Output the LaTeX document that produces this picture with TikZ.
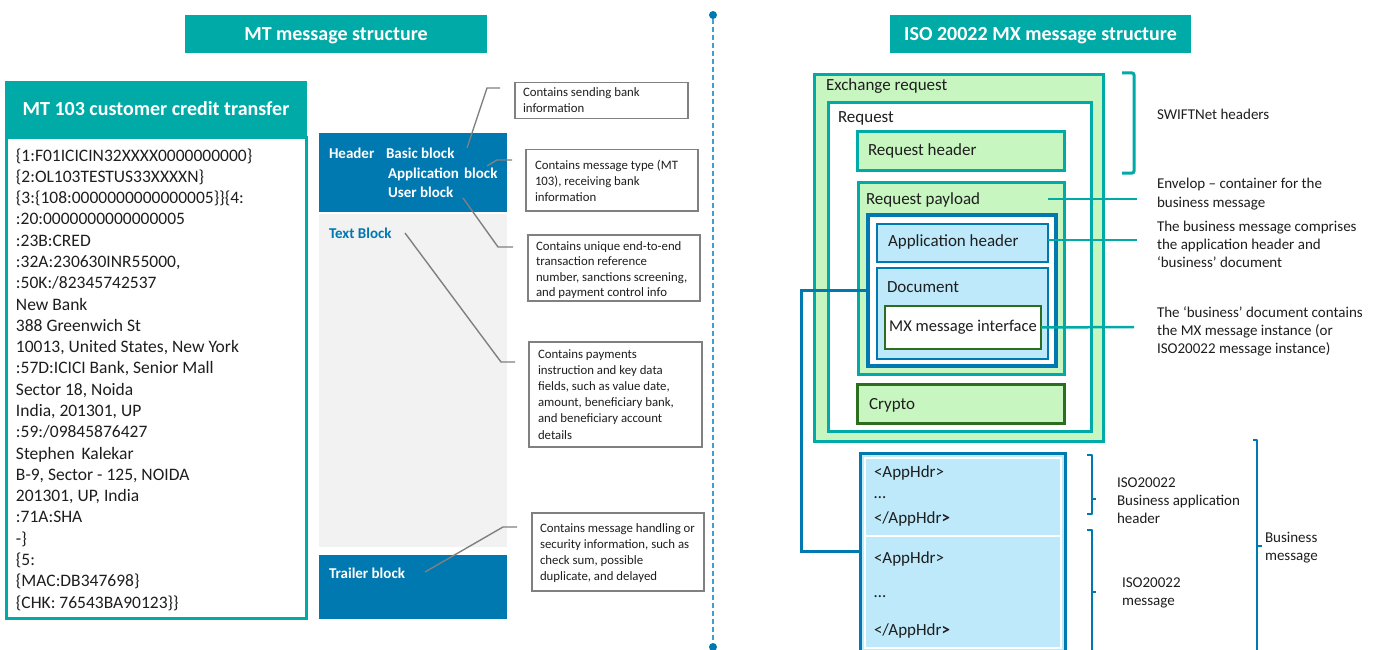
\documentclass[tikz,border=0pt]{standalone}
\usepackage{fontspec}
\setmainfont{Carlito}
\definecolor{mxteal}{RGB}{0,170,167}
\definecolor{mxblue}{RGB}{0,120,176}
\definecolor{mxpanel}{RGB}{242,242,242}
\definecolor{mxgreen}{RGB}{200,246,192}
\definecolor{mxsky}{RGB}{190,233,251}
\definecolor{mxforest}{RGB}{45,110,30}
\definecolor{mxgrey}{RGB}{128,128,128}
\definecolor{mxdash}{RGB}{60,160,215}
\definecolor{mxink}{RGB}{30,30,30}
% a block of lines: width, font size, line spacing, text
\newcommand\tlines[4]{\parbox[t]{#1}{\raggedright\fontsize{#2}{#3}\selectfont #4}}

\begin{document}
\begin{tikzpicture}[x=1pt,y=-1pt,
  every node/.style={inner sep=0pt, outer sep=0pt},
  titlebar/.style={fill=mxteal, text=white, font=\fontsize{20pt}{24pt}\selectfont\bfseries,
                   text height=13pt, text depth=0pt},
  mtblock/.style={fill=mxblue},
  textpanel/.style={fill=mxpanel},
  callout/.style={draw=mxgrey, line width=1.8pt, fill=white},
  leader/.style={mxgrey, line width=1.4pt},
  blocklabel/.style={anchor=base west, text=white, font=\fontsize{15pt}{18pt}\selectfont\bfseries},
  notetext/.style={anchor=base west, text=mxink},
  tealframe/.style={draw=mxteal, line width=3pt},
  boxlabel/.style={anchor=base west, text=mxink, font=\fontsize{17pt}{20pt}\selectfont},
  xmltext/.style={anchor=base west, text=mxink, font=\fontsize{17pt}{20pt}\selectfont},
  tealline/.style={mxteal, line width=2.5pt},
  blueline/.style={mxblue, line width=3pt},
  bracebar/.style={mxblue, line width=2.5pt, line join=round},
  enddot/.style={circle, fill=mxblue, minimum size=8pt}]

\useasboundingbox (0,0) rectangle (1381,650);
\clip (0,0) rectangle (1381,650);
\fill[white] (0,0) rectangle (1381,650);

% ---------------- MT side ----------------
\node[titlebar, minimum width=302pt, minimum height=38pt] (mthead) at (336,34) {MT message structure};

\node[draw=mxteal, line width=3pt, fill=white, minimum width=299.5pt, minimum height=480pt] (mtbox) at (156.25,378) {};
\node[titlebar, minimum width=302pt, minimum height=57pt] (mttitle) at (156,109.5) {MT 103 customer credit transfer};
\node[notetext] (mtbody) at (16,161) {\tlines{288pt}{17.5pt}{21.29pt}{%
\{1:F01ICICIN32XXXX0000000000\}\\
\{2:OL103TESTUS33XXXXN\}\\
\{3:\{108:0000000000000005\}\}\{4:\\
:20:0000000000000005\\
:23B:CRED\\
:32A:230630INR55000,\\
:50K:/82345742537\\
New Bank\\
388 Greenwich St\\
10013, United States, New York\\
:57D:ICICI Bank, Senior Mall\\
Sector 18, Noida\\
India, 201301, UP\\
:59:/09845876427\\
Stephen\, Kalekar\\
B-9, Sector - 125, NOIDA\\
201301, UP, India\\
:71A:SHA\\
-\}\\
\{5:\\
\{MAC:DB347698\}\\
\{CHK: 76543BA90123\}\}}};

% message blocks
\node[mtblock, minimum width=188pt, minimum height=79pt] (hdrblk) at (413,172.5) {};
\node[textpanel, minimum width=188pt, minimum height=333pt] (txtblk) at (413,380.5) {};
\node[mtblock, minimum width=188pt, minimum height=64pt] (trlblk) at (413,587) {};

\node[blocklabel] (hdrl) at (329,158) {Header};
\node[blocklabel] (basicl) at (386,158) {Basic block};
\node[blocklabel] (appl) at (388,178) {Application\hspace{0.35em}block};
\node[blocklabel] (userl) at (388,197) {User block};
\node[blocklabel, text=mxblue] (txtl) at (329,238) {Text Block};
\node[blocklabel] (trll) at (329,578) {Trailer block};

% callouts
\node[callout, minimum width=173pt, minimum height=36pt] (c1) at (601.5,100.5) {};
\node[callout, minimum width=172pt, minimum height=61.5pt] (c2) at (612,180.25) {};
\node[callout, minimum width=172pt, minimum height=66pt] (c3) at (614,268) {};
\node[callout, minimum width=173pt, minimum height=105pt] (c4) at (615.5,394.5) {};
\node[callout, minimum width=172pt, minimum height=78pt] (c5) at (618,552) {};

\node[notetext] (c1t) at (523,97) {\tlines{170pt}{12.8pt}{15.7pt}{Contains sending bank\\information}};
\node[notetext] (c2t) at (535,169) {\tlines{170pt}{12.8pt}{16pt}{Contains message type (MT\\103), receiving bank\\information}};
\node[notetext] (c3t) at (536,250) {\tlines{170pt}{12.8pt}{15.6pt}{Contains unique end-to-end\\transaction reference\\number, sanctions screening,\\and payment control info}};
\node[notetext] (c4t) at (538,358) {\tlines{170pt}{12.8pt}{16.2pt}{Contains payments\\instruction and key data\\fields, such as value date,\\amount, beneficiary bank,\\and beneficiary account\\details}};
\node[notetext] (c5t) at (540,532) {\tlines{170pt}{12.8pt}{16pt}{Contains message handling or\\security information, such as\\check sum, possible\\duplicate, and delayed}};

% leader lines
\coordinate (g1a) at (467,148); \coordinate (g1b) at (487,88);  \coordinate (g1c) at (500,88);
\coordinate (g2a) at (487,166); \coordinate (g2b) at (497,160); \coordinate (g2c) at (512,160);
\coordinate (g3a) at (463,198); \coordinate (g3b) at (498,247); \coordinate (g3c) at (513,247);
\coordinate (g4a) at (405,233); \coordinate (g4b) at (501,362); \coordinate (g4c) at (515,362);
\coordinate (g5a) at (425,572); \coordinate (g5b) at (503,527); \coordinate (g5c) at (517,527);
\draw[leader] (g1a) -- (g1b) -- (g1c);
\draw[leader] (g2a) -- (g2b) -- (g2c);
\draw[leader] (g3a) -- (g3b) -- (g3c);
\draw[leader] (g4a) -- (g4b) -- (g4c);
\draw[leader] (g5a) -- (g5b) -- (g5c);

% ---------------- divider ----------------
\node[enddot] (dtop) at (713,15) {};
\node[enddot] (dbot) at (713,647) {};
\draw[mxdash, line width=1.8pt, dash pattern=on 5pt off 3pt] (dtop) -- (dbot);

% ---------------- MX side ----------------
\node[titlebar, minimum width=301pt, minimum height=38pt] (mxhead) at (1040.5,34) {ISO 20022 MX message structure};

\node[tealframe, fill=mxgreen, minimum width=289pt, minimum height=367pt] (exch) at (959,258) {};
\node[boxlabel] (exchl) at (826,91) {Exchange request};
\node[tealframe, fill=white, minimum width=263pt, minimum height=329pt] (req) at (960,267) {};
\node[boxlabel] (reql) at (838,123) {Request};
\node[tealframe, fill=mxgreen, minimum width=207pt, minimum height=39pt] (reqhdr) at (961,151) {};
\node[boxlabel] (reqhdrl) at (868,156) {Request header};
\node[tealframe, fill=mxgreen, minimum width=206pt, minimum height=192pt] (payload) at (961.5,278.5) {};
\node[boxlabel] (payloadl) at (866,204) {Request payload};
\node[draw=mxblue, line width=4.5pt, fill=white, minimum width=188pt, minimum height=151pt] (bizmsg) at (962,290.5) {};
\node[draw=mxblue, line width=2.5pt, fill=mxsky, minimum width=171pt, minimum height=38pt] (apphdr) at (962.5,243) {};
\node[boxlabel] (apphdrl) at (888,246) {Application header};
\node[draw=mxblue, line width=2.5pt, fill=mxsky, minimum width=171pt, minimum height=91pt] (doc) at (962.5,313.5) {};
\node[boxlabel] (docl) at (887,292) {Document};
\node[draw=mxforest, line width=2.5pt, fill=white, minimum width=156pt, minimum height=43pt,
      text=mxink, font=\fontsize{16.5pt}{20pt}\selectfont] (mxif) at (963,327.5) {MX message interface};
\node[draw=mxforest, line width=3pt, fill=mxgreen, minimum width=207pt, minimum height=39pt] (crypto) at (961,404) {};
\node[boxlabel] (cryptol) at (869,409) {Crypto};

% annotation leaders
\coordinate (t1s) at (1048,199); \coordinate (t1e) at (1137,199);
\coordinate (t2e) at (1137,240);
\coordinate (t3e) at (1134,327);
\draw[tealline] (t1s) -- (t1e);
\draw[tealline] (apphdr.east |- t2e) -- (t2e);
\draw[tealline] (mxif.east) -- (t3e);

% SWIFTNet headers bracket
\coordinate (s1) at (1122,73); \coordinate (s2) at (1134,73);
\coordinate (s3) at (1134,173); \coordinate (s4) at (1122,173);
\draw[mxteal, line width=3pt, rounded corners=2pt] (s1) -- (s2) -- (s3) -- (s4);

% annotations
\node[notetext] (swiftt) at (1157,120) {\tlines{220pt}{15pt}{18.5pt}{SWIFTNet headers}};
\node[notetext] (envt) at (1157,188) {\tlines{220pt}{15pt}{19pt}{Envelop – container for the\\business message}};
\node[notetext] (bizt) at (1157,231) {\tlines{224pt}{15pt}{18pt}{The business message comprises\\the application header and\\‘business’ document}};
\node[notetext] (doct) at (1157,317) {\tlines{224pt}{15pt}{18pt}{The ‘business’ document contains\\the MX message instance (or\\ISO20022 message instance)}};

% business message box
\node[draw=mxblue, line width=3.5pt, fill=mxsky, minimum width=205pt, minimum height=201.5pt] (bahbox) at (963,554.25) {};
\draw[white, line width=1.3pt] (865,458) rectangle (1061,648);
\draw[white, line width=1.5pt] (864,536) -- (1062,536);
\node[xmltext] (x1) at (874,477) {<AppHdr>};
\node[xmltext] (x2) at (874,498) {…};
\node[xmltext] (x3) at (874,523) {</AppHdr{\bfseries >}};
\node[xmltext] (x4) at (874,563) {<AppHdr>};
\node[xmltext] (x5) at (874,597) {…};
\node[xmltext] (x6) at (874,635) {</AppHdr{\bfseries >}};

% link from the business message to its expanded form
\coordinate (j1) at (801,290); \coordinate (j2) at (801,551);
\draw[blueline] (bizmsg.west |- j1) -- (j1) -- (j2) -- (bahbox.west |- j2);

% braces
\draw[bracebar] (1087,455) -- (1092,455) -- (1092,514) -- (1087,514);
\draw[bracebar] (1092,499) -- (1096,499);
\draw[bracebar] (1087,530) -- (1092,530) -- (1092,660);
\draw[bracebar] (1092,592) -- (1096,592);
\draw[bracebar] (1253,440) -- (1257,440) -- (1257,660);
\draw[bracebar] (1257,546) -- (1262,546);

\node[notetext] (baht) at (1117,487) {\tlines{150pt}{15pt}{18pt}{ISO20022\\Business application\\header}};
\node[notetext] (msgt) at (1122,587) {\tlines{120pt}{15pt}{18pt}{ISO20022\\message}};
\node[notetext] (bmt) at (1265,542) {\tlines{110pt}{15pt}{18pt}{Business\\message}};

\end{tikzpicture}
\end{document}
